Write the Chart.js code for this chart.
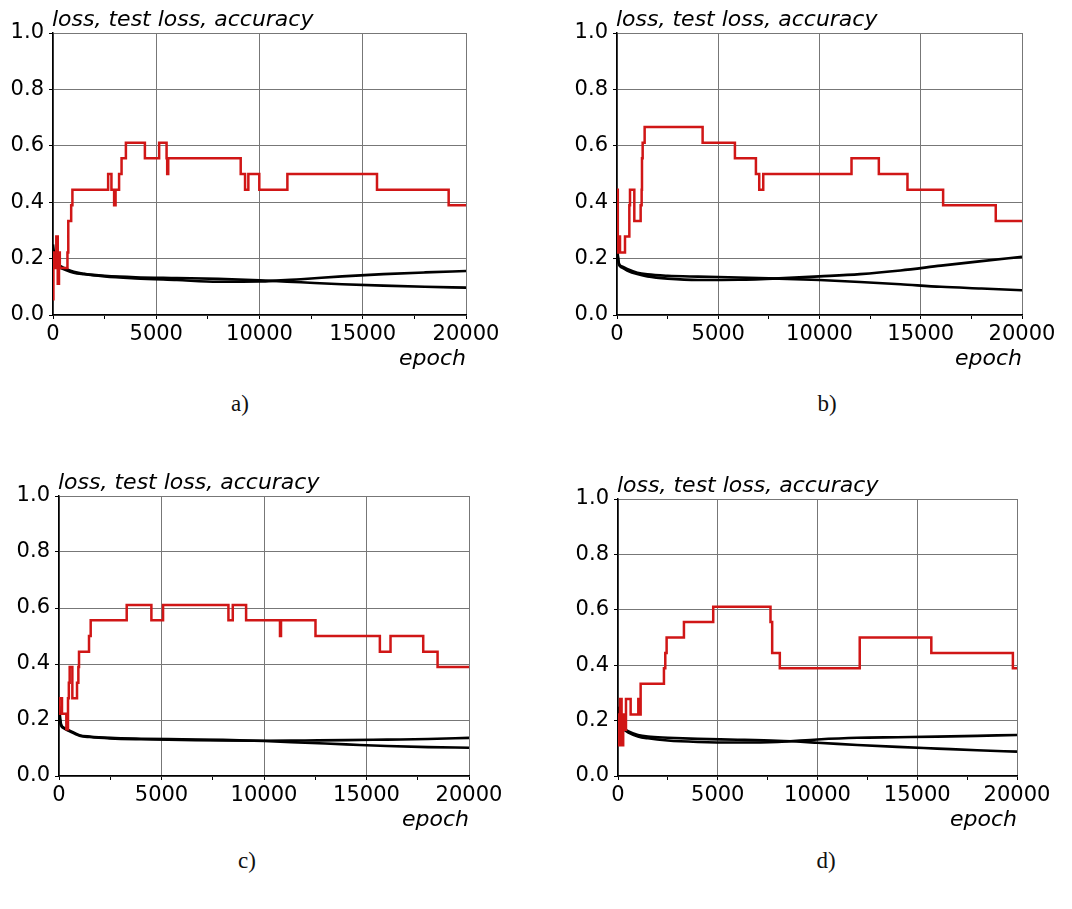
<!DOCTYPE html>
<html>
<head>
<meta charset="utf-8">
<script src="https://cdn.jsdelivr.net/npm/chart.js@4"></script>
<style>
body { margin: 0; background: #fff; width: 1072px; height: 909px; position: relative; overflow: hidden; }
canvas { position: absolute; }
.cap { position: absolute; font-family: "Liberation Serif", serif; font-size: 23px; color: #111; transform: translateX(-50%); }
</style>
</head>
<body>
<canvas id="ca" width="530" height="380" style="left:0px;top:0px"></canvas>
<canvas id="cb" width="532" height="380" style="left:540px;top:0px"></canvas>
<canvas id="cc" width="530" height="380" style="left:0px;top:460px"></canvas>
<canvas id="cd" width="532" height="380" style="left:540px;top:460px"></canvas>
<div class="cap" style="left:240px;top:391px">a)</div>
<div class="cap" style="left:827px;top:391px">b)</div>
<div class="cap" style="left:247px;top:848px">c)</div>
<div class="cap" style="left:826px;top:848px">d)</div>
<script>
// epochs where the loss curves were sampled
const lossEpochs = [0, 100, 250, 500, 1000, 1500, 2500, 4000, 6000, 8000, 10000, 12000, 14000, 16000, 18000, 20000];

// a)
const lossA = [0.25, 0.19, 0.172, 0.163, 0.15, 0.145, 0.139, 0.134, 0.131, 0.128, 0.123, 0.116, 0.109, 0.104, 0.1, 0.097];
const testLossA = [0.19, 0.185, 0.178, 0.168, 0.153, 0.146, 0.137, 0.13, 0.124, 0.118, 0.119, 0.127, 0.137, 0.145, 0.151, 0.156];
const accEpochsA = [0, 20, 60, 160, 230, 290, 330, 700, 740, 880, 940, 2670, 2830, 2960, 3030, 3200, 3320, 3530, 4450, 5140, 5500, 5530, 5580, 9090, 9300, 9460, 9990, 11350, 15690, 19160, 20000];
const accA = [0.056, 0.222, 0.167, 0.278, 0.111, 0.222, 0.167, 0.222, 0.333, 0.389, 0.444, 0.5, 0.444, 0.389, 0.444, 0.5, 0.556, 0.611, 0.556, 0.611, 0.556, 0.5, 0.556, 0.5, 0.444, 0.5, 0.444, 0.5, 0.444, 0.389, 0.389];

// b)
const lossB = [0.24, 0.182, 0.172, 0.163, 0.15, 0.144, 0.139, 0.136, 0.133, 0.129, 0.124, 0.117, 0.109, 0.1, 0.094, 0.088];
const testLossB = [0.23, 0.178, 0.168, 0.158, 0.145, 0.137, 0.129, 0.124, 0.125, 0.13, 0.137, 0.145, 0.158, 0.175, 0.191, 0.206];
const accEpochsB = [0, 40, 66, 148, 395, 609, 642, 855, 1168, 1217, 1234, 1267, 1365, 4228, 5823, 6860, 7024, 7222, 11581, 12930, 14344, 16105, 18704, 20000];
const accB = [0.444, 0.222, 0.278, 0.222, 0.278, 0.389, 0.444, 0.333, 0.389, 0.444, 0.556, 0.611, 0.667, 0.611, 0.556, 0.5, 0.444, 0.5, 0.556, 0.5, 0.444, 0.389, 0.333, 0.333];

// c)
const lossC = [0.25, 0.185, 0.172, 0.163, 0.146, 0.141, 0.136, 0.133, 0.131, 0.129, 0.125, 0.119, 0.113, 0.107, 0.103, 0.101];
const testLossC = [0.22, 0.18, 0.17, 0.16, 0.144, 0.139, 0.134, 0.131, 0.129, 0.127, 0.126, 0.127, 0.128, 0.13, 0.132, 0.136];
const accEpochsC = [0, 20, 146, 358, 439, 480, 521, 651, 879, 944, 976, 1464, 1546, 3303, 4507, 5076, 8265, 8477, 9127, 10780, 10830, 12512, 15652, 16172, 17767, 18467, 20000];
const accC = [0.222, 0.278, 0.222, 0.167, 0.278, 0.333, 0.389, 0.278, 0.333, 0.389, 0.444, 0.5, 0.556, 0.611, 0.556, 0.611, 0.556, 0.611, 0.556, 0.5, 0.556, 0.5, 0.444, 0.5, 0.444, 0.389, 0.389];

// d)
const lossD = [0.25, 0.19, 0.172, 0.162, 0.148, 0.142, 0.138, 0.134, 0.131, 0.127, 0.12, 0.112, 0.105, 0.099, 0.093, 0.088];
const testLossD = [0.22, 0.18, 0.17, 0.158, 0.143, 0.136, 0.128, 0.123, 0.121, 0.123, 0.132, 0.138, 0.14, 0.142, 0.145, 0.148];
const accEpochsD = [0, 60, 100, 180, 260, 300, 400, 634, 1018, 1068, 1135, 2303, 2370, 2437, 3305, 4773, 7644, 7728, 8111, 12117, 15705, 19794, 20000];
const accD = [0.222, 0.111, 0.278, 0.111, 0.222, 0.167, 0.278, 0.222, 0.278, 0.222, 0.333, 0.389, 0.444, 0.5, 0.556, 0.611, 0.556, 0.444, 0.389, 0.5, 0.444, 0.389, 0.389];

const yTicks = [0, 0.2, 0.4, 0.6, 0.8, 1.0];

function pts(xs, ys) {
  return xs.map((x, i) => ({ x: x, y: ys[i] }));
}

const axisText = {
  id: 'axisText',
  afterDraw(chart) {
    const a = chart.chartArea, c = chart.ctx;
    c.save();
    c.font = 'italic 22px "DejaVu Sans"';
    c.fillStyle = '#000';
    c.textBaseline = 'alphabetic';
    c.textAlign = 'left';
    c.fillText('loss, test loss, accuracy', a.left - 1, a.top - 7);
    c.textAlign = 'right';
    c.fillText('epoch', a.right, a.bottom + 50);
    c.restore();
  }
};

// box = chart area inside the canvas
function makeChart(id, box, accEpochs, acc, loss, testLoss) {
  const cv = document.getElementById(id);
  const font = { family: '"DejaVu Sans"', size: 21 };
  return new Chart(cv, {
    type: 'line',
    data: {
      datasets: [
        { label: 'accuracy', data: pts(accEpochs, acc), stepped: 'before', borderColor: 'rgb(208,22,22)', borderWidth: 2.5, pointRadius: 0 },
        { label: 'loss', data: pts(lossEpochs, loss), borderColor: '#000', borderWidth: 2.6, pointRadius: 0, cubicInterpolationMode: 'monotone' },
        { label: 'test loss', data: pts(lossEpochs, testLoss), borderColor: '#000', borderWidth: 2.6, pointRadius: 0, cubicInterpolationMode: 'monotone' }
      ]
    },
    options: {
      responsive: false,
      animation: false,
      layout: { padding: { left: 0, top: box.top, right: cv.width - box.right, bottom: 0 } },
      plugins: { legend: { display: false }, tooltip: { enabled: false } },
      scales: {
        x: {
          type: 'linear',
          min: 0,
          max: 20000,
          afterFit: s => { s.height = cv.height - box.bottom; },
          ticks: {
            stepSize: 2500,
            autoSkip: false,
            maxRotation: 0,
            minRotation: 0,
            padding: 3,
            color: '#000',
            font: font,
            callback: v => (v % 5000 === 0 ? String(v) : '')
          },
          grid: {
            color: c => (c.tick && c.tick.value % 5000 === 0 ? '#777' : 'rgba(0,0,0,0)'),
            tickColor: '#000',
            tickLength: 4,
            lineWidth: 1
          },
          border: { color: '#000', width: 1.5 }
        },
        y: {
          min: 0,
          max: 1,
          afterFit: s => { s.width = box.left; },
          afterBuildTicks: s => { s.ticks = yTicks.map(v => ({ value: v })); },
          ticks: {
            padding: 5,
            color: '#000',
            font: font,
            callback: v => Number(v).toFixed(1)
          },
          grid: { color: '#777', tickColor: '#000', tickLength: 4, lineWidth: 1 },
          border: { color: '#000', width: 1.5 }
        }
      }
    },
    plugins: [axisText]
  });
}

makeChart('ca', { left: 53, top: 33, right: 466, bottom: 315 }, accEpochsA, accA, lossA, testLossA);
makeChart('cb', { left: 77, top: 33, right: 482, bottom: 315 }, accEpochsB, accB, lossB, testLossB);
makeChart('cc', { left: 59, top: 36, right: 469, bottom: 316 }, accEpochsC, accC, lossC, testLossC);
makeChart('cd', { left: 78, top: 39, right: 477, bottom: 316 }, accEpochsD, accD, lossD, testLossD);
</script>
</body>
</html>
